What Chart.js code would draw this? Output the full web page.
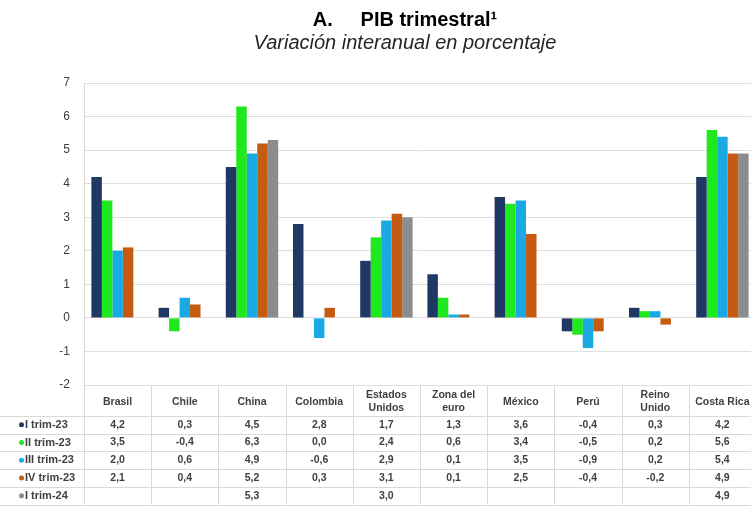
<!DOCTYPE html>
<html lang="es">
<head>
<meta charset="utf-8">
<title>PIB trimestral</title>
<script src="https://cdn.jsdelivr.net/npm/chart.js@4.4.1/dist/chart.umd.min.js"></script>
<style>
    html, body { margin: 0; padding: 0; background: #ffffff; overflow: hidden; }
    #wrap { width: 756px; height: 506px; }
</style>
</head>
<body>
<div id="wrap"><canvas id="pib-chart" width="756" height="506"></canvas></div>
<script>
// Data
const paises = ["Brasil", "Chile", "China", "Colombia", ["Estados", "Unidos"], ["Zona del", "euro"], "México", "Perú", ["Reino", "Unido"], "Costa Rica"];
const trimestres = ["I trim-23", "II trim-23", "III trim-23", "IV trim-23", "I trim-24"];
const iTrim23 = [4.2, 0.3, 4.5, 2.8, 1.7, 1.3, 3.6, -0.4, 0.3, 4.2];
const iiTrim23 = [3.5, -0.4, 6.3, 0.0, 2.4, 0.6, 3.4, -0.5, 0.2, 5.6];
const iiiTrim23 = [2.0, 0.6, 4.9, -0.6, 2.9, 0.1, 3.5, -0.9, 0.2, 5.4];
const ivTrim23 = [2.1, 0.4, 5.2, 0.3, 3.1, 0.1, 2.5, -0.4, -0.2, 4.9];
const iTrim24 = [null, null, 5.3, null, 3.0, null, null, null, null, 4.9];
const yTicks = [-2, -1, 0, 1, 2, 3, 4, 5, 6, 7];

const colores = ["#1f3864", "#1ee81e", "#1aa9e3", "#c55a11", "#8c8c8c"];
const series = [iTrim23, iiTrim23, iiiTrim23, ivTrim23, iTrim24];

function fmt(v) {
    if (v === null || v === undefined) return "";
    return v.toFixed(1).replace(".", ",");
}

// Table under the chart (values and legend)
const tablaPlugin = {
    id: "tabla",
    afterDraw(chart) {
        const { ctx, chartArea } = chart;
        const xScale = chart.scales.x;
        const n = chart.data.labels.length;
        const colW = (chartArea.right - chartArea.left) / n;
        const top = chartArea.bottom;
        const headH = 31;
        const rowH = 17.7;
        const bottom = top + headH + rowH * series.length;

        ctx.save();
        ctx.strokeStyle = "#d9d9d9";
        ctx.lineWidth = 1;

        // vertical borders
        for (let i = 0; i <= n; i++) {
            const xx = Math.round(chartArea.left + i * colW) + 0.5;
            ctx.beginPath();
            ctx.moveTo(xx, top);
            ctx.lineTo(xx, bottom);
            ctx.stroke();
        }
        // horizontal borders
        for (let r = 0; r <= series.length; r++) {
            const yy = Math.round(top + headH + r * rowH) + 0.5;
            ctx.beginPath();
            ctx.moveTo(0, yy);
            ctx.lineTo(chartArea.right, yy);
            ctx.stroke();
        }

        ctx.fillStyle = "#404040";
        ctx.font = "bold 10.5px 'Liberation Sans', Arial, sans-serif";
        ctx.textAlign = "center";
        ctx.textBaseline = "middle";

        // header
        chart.data.labels.forEach((lab, i) => {
            const cx = xScale.getPixelForValue(i);
            const cy = top + 17;
            if (Array.isArray(lab)) {
                ctx.fillText(lab[0], cx, cy - 6.5);
                ctx.fillText(lab[1], cx, cy + 6.5);
            } else {
                ctx.fillText(lab, cx, cy);
            }
        });

        // rows
        series.forEach((vals, r) => {
            const cy = top + headH + r * rowH + rowH / 2;
            ctx.fillStyle = colores[r];
            ctx.beginPath();
            ctx.arc(21.5, cy, 2.5, 0, Math.PI * 2);
            ctx.fill();
            ctx.fillStyle = "#404040";
            ctx.textAlign = "left";
            ctx.font = "bold 11px 'Liberation Sans', Arial, sans-serif";
            ctx.fillText(trimestres[r], 25, cy);
            ctx.textAlign = "center";
            ctx.font = "bold 10.5px 'Liberation Sans', Arial, sans-serif";
            vals.forEach((v, i) => {
                ctx.fillText(fmt(v), xScale.getPixelForValue(i), cy);
            });
        });
        ctx.restore();
    }
};

const ctx = document.getElementById("pib-chart").getContext("2d");
new Chart(ctx, {
    type: "bar",
    data: {
        labels: paises,
        datasets: series.map((vals, i) => ({
            label: trimestres[i],
            data: vals,
            backgroundColor: colores[i],
            borderWidth: 0,
            categoryPercentage: 0.78,
            barPercentage: 1.0
        }))
    },
    options: {
        responsive: false,
        animation: false,
        layout: { padding: { left: 54, right: 0, top: 0, bottom: 121 } },
        plugins: {
            legend: { display: false },
            tooltip: { enabled: false },
            title: {
                display: true,
                text: "A.     PIB trimestral\u00b9",
                color: "#000000",
                font: { family: "'Liberation Sans', Arial, sans-serif", size: 20, weight: "bold", lineHeight: 1.2 },
                padding: { top: 8, bottom: 0 }
            },
            subtitle: {
                display: true,
                text: "Variación interanual en porcentaje",
                color: "#262626",
                font: { family: "'Liberation Sans', Arial, sans-serif", size: 20, style: "italic", lineHeight: 1.1 },
                padding: { top: 0, bottom: 29 }
            }
        },
        scales: {
            x: {
                display: false
            },
            y: {
                min: -2,
                max: 7,
                afterFit(scale) { scale.width = 30; },
                afterBuildTicks(scale) { scale.ticks = yTicks.map(v => ({ value: v })); },
                border: { display: true, color: "#d9d9d9" },
                grid: { color: "#dedede", drawTicks: false },
                ticks: {
                    padding: 14,
                    color: "#404040",
                    font: { family: "'Liberation Sans', Arial, sans-serif", size: 12 }
                }
            }
        }
    },
    plugins: [tablaPlugin]
});
</script>
</body>
</html>
